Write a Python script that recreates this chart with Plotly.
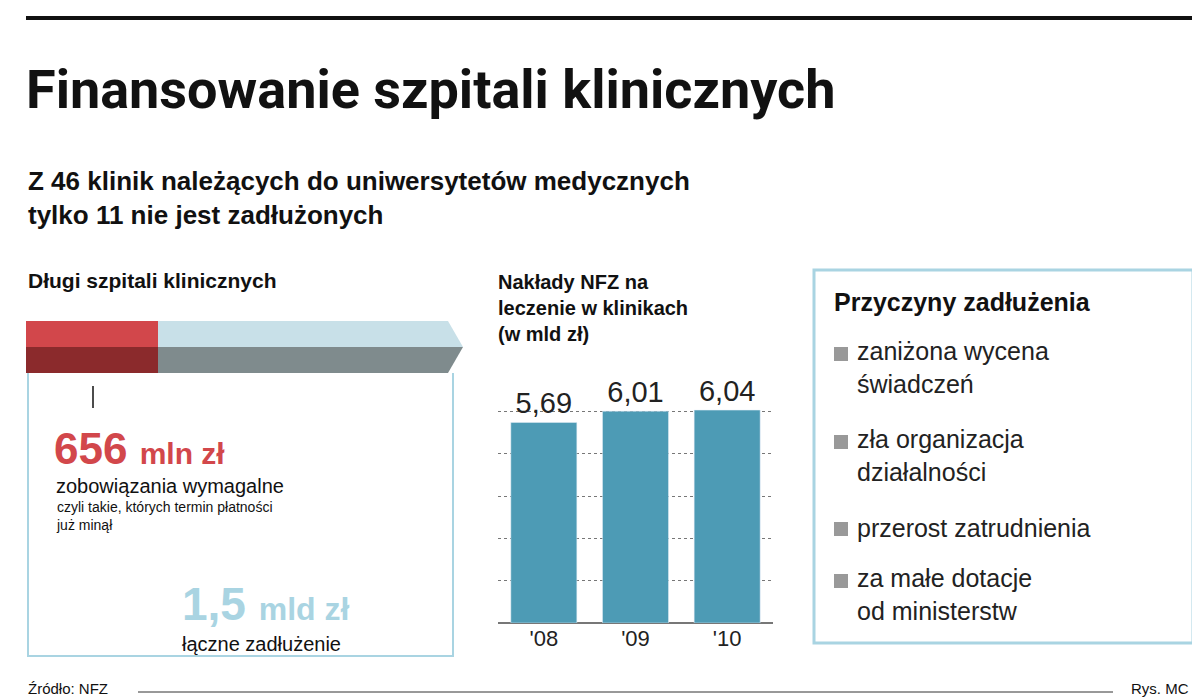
import plotly.graph_objects as go

years = ["'08", "'09", "'10"]
nfz_spending = [5.69, 6.01, 6.04]
reasons = ["zaniżona wycena<br>świadczeń", "zła organizacja<br>działalności",
           "przerost zatrudnienia", "za małe dotacje<br>od ministerstw"]
reason_y = [345, 433, 520, 572]

W, H = 1200, 700
def px(x):
    return x / W
def py(y):
    return 1 - y / H

BAR_BLUE = "#4d9bb5"
LIGHT_BLUE = "#a9d4e2"
RED = "#d2474b"
FONT = "Liberation Sans, Arial"

fig = go.Figure(go.Bar(
    x=years, y=nfz_spending, marker_color=BAR_BLUE, width=0.72,
    text=[f"{v:.2f}".replace(".", ",") for v in nfz_spending],
    textposition="outside", cliponaxis=False,
    textfont=dict(size=29, color="#222", family=FONT),
))

shapes = [
    dict(type="line", xref="paper", yref="paper", x0=px(18), x1=px(1185), y0=py(10), y1=py(10),
         line=dict(color="#111", width=4)),
    # debt bar, top face and bottom face
    dict(type="path", xref="paper", yref="paper",
         path=f"M {px(18)} {py(339)} L {px(18)} {py(313)} L {px(150)} {py(313)} L {px(150)} {py(339)} Z",
         fillcolor=RED, line=dict(width=0)),
    dict(type="path", xref="paper", yref="paper",
         path=f"M {px(150)} {py(339)} L {px(150)} {py(313)} L {px(440)} {py(313)} L {px(455)} {py(339)} Z",
         fillcolor="#c8e0e8", line=dict(width=0)),
    dict(type="path", xref="paper", yref="paper",
         path=f"M {px(18)} {py(339)} L {px(18)} {py(365)} L {px(150)} {py(365)} L {px(150)} {py(339)} Z",
         fillcolor="#8b2a2c", line=dict(width=0)),
    dict(type="path", xref="paper", yref="paper",
         path=f"M {px(150)} {py(339)} L {px(150)} {py(365)} L {px(440)} {py(365)} L {px(455)} {py(339)} Z",
         fillcolor="#7f8b8d", line=dict(width=0)),
    # left box
    dict(type="path", xref="paper", yref="paper",
         path=f"M {px(20)} {py(365)} L {px(20)} {py(648)} L {px(445)} {py(648)} L {px(445)} {py(365)}",
         line=dict(color=LIGHT_BLUE, width=2)),
    # arrow
    dict(type="line", xref="paper", yref="paper", x0=px(85), x1=px(85), y0=py(400), y1=py(378),
         line=dict(color="#111", width=1.5)),
    # right box
    dict(type="rect", xref="paper", yref="paper", x0=px(806), x1=px(1185), y0=py(262), y1=py(635),
         line=dict(color=LIGHT_BLUE, width=3)),
    # footer line
    dict(type="line", xref="paper", yref="paper", x0=px(130), x1=px(1105), y0=py(684), y1=py(684),
         line=dict(color="#333", width=1)),
]
for y in reason_y:
    shapes.append(dict(type="rect", xref="paper", yref="paper", x0=px(826), x1=px(840),
                       y0=py(y + 8), y1=py(y - 6), fillcolor="#999", line=dict(width=0)))

def txt(x, y, s, size, color="#111", bold=False, family=FONT, xanchor="left", yanchor="middle"):
    return dict(xref="paper", yref="paper", x=px(x), y=py(y), text=f"<b>{s}</b>" if bold else s,
                showarrow=False, xanchor=xanchor, yanchor=yanchor, align="left",
                font=dict(size=size, color=color, family=family))

ann = [
    txt(16, 82, "Finansowanie szpitali klinicznych", 54, bold=True, family="Liberation Sans Narrow, Roboto, Arial"),
    txt(18, 190, "Z 46 klinik należących do uniwersytetów medycznych<br>tylko 11 nie jest zadłużonych", 26, bold=True),
    txt(18, 272, "Długi szpitali klinicznych", 21, bold=True),
    txt(44, 440, "656 <span style='font-size:30px'>mln zł</span>", 44, color=RED, bold=True),
    txt(46, 478, "zobowiązania wymagalne", 20),
    txt(46, 508, "czyli takie, których termin płatności<br>już minął", 14),
    txt(172, 596, "1,5 <span style='font-size:32px'>mld zł</span>", 46, color=LIGHT_BLUE, bold=True),
    txt(172, 636, "łączne zadłużenie", 20),
    txt(488, 300, "Nakłady NFZ na<br>leczenie w klinikach<br>(w mld zł)", 20, bold=True),
    txt(824, 294, "Przyczyny zadłużenia", 25, bold=True),
    txt(18, 680, "Źródło: NFZ", 15),
    txt(1183, 680, "Rys. MC", 15, xanchor="right"),
]
for s, y in zip(reasons, reason_y):
    ann.append(txt(847, y, s, 25, color="#222", yanchor="top" if False else "middle")
               if "<br>" not in s else
               dict(txt(847, y - 18, s, 25, color="#222", yanchor="top")))

fig.update_layout(
    width=W, height=H, autosize=False, margin=dict(l=0, r=0, t=0, b=0),
    paper_bgcolor="white", plot_bgcolor="white", showlegend=False,
    shapes=shapes, annotations=ann,
    xaxis=dict(domain=[px(490), px(765)], showline=False, ticks="",
               tickfont=dict(size=22, color="#222", family=FONT)),
    yaxis=dict(domain=[py(615), py(400)], range=[0, 6.1], dtick=1.2, showticklabels=False,
               showgrid=True, gridcolor="#777", griddash="dot", gridwidth=1, zeroline=True,
               zerolinecolor="#777"),
    bargap=0.25,
)

fig.write_html("out.html")
